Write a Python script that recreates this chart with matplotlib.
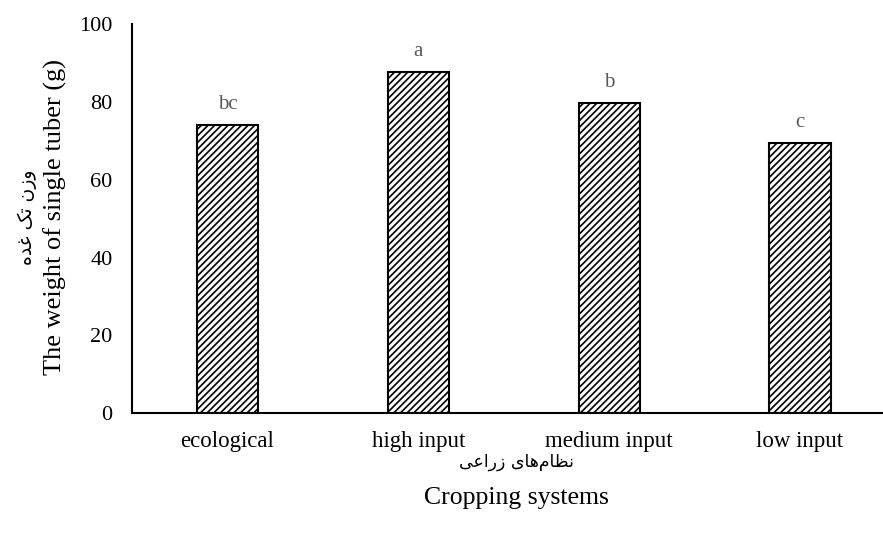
import matplotlib
matplotlib.use("Agg")
import matplotlib.pyplot as plt
import numpy as np

categories = ["ecological", "high input", "medium input", "low input"]
values = [74.0, 87.6, 79.6, 69.4]
letters = ["bc", "a", "b", "c"]
yticks = [0, 20, 40, 60, 80, 100]

# Persian labels, pre-shaped (presentation forms, visual order)
fa_ylabel = "\uFEE9\uFEAA\uFECF \uFB8F\uFE97 \uFEE5\uFEAF\uFEED"          # وزن تک غده
fa_xlabel = "\uFBFD\uFECB\uFE8D\uFEAD\uFEAF \uFBFC\uFE8E\uFEEB\uFEE1\uFE8E\uFEC8\uFEE7"  # نظام‌های زراعی

plt.rcParams["hatch.color"] = "#303030"
plt.rcParams["hatch.linewidth"] = 1.2
serif = ["Liberation Serif", "DejaVu Serif"]

fig = plt.figure(figsize=(8.83, 5.37), dpi=100)
ax = fig.add_axes([0.1495, 0.2303, 0.8505, 0.7250])

x = np.arange(len(categories))
ax.bar(x, values, width=0.32, color="white", edgecolor="black",
       linewidth=1.5, hatch="/////", zorder=2)

for xi, v, l in zip(x, values, letters):
    ax.annotate(l, (xi, v), xytext=(0, 8), textcoords="offset points",
                ha="center", va="bottom", fontsize=15, color="#595959",
                family=serif)

ax.set_xlim(-0.5, 3.435)
ax.set_ylim(0, 100)
ax.set_yticks(yticks)
ax.set_xticks(x)
ax.set_xticklabels(categories, family=serif, fontsize=16.5)
ax.set_yticklabels([str(t) for t in yticks], family=serif, fontsize=16)
ax.tick_params(axis="both", length=0)
ax.tick_params(axis="y", pad=14)
ax.tick_params(axis="x", pad=13)

for s in ["top", "right"]:
    ax.spines[s].set_visible(False)
for s in ["left", "bottom"]:
    ax.spines[s].set_linewidth(1.5)

# Axis titles
fig.text(0.0625, 0.595, "The weight of single tuber (g)", rotation=90,
         ha="center", va="center", fontsize=19, family=serif)
fig.text(0.031, 0.595, fa_ylabel, rotation=90, ha="center", va="center",
         fontsize=13.5, family=["DejaVu Sans"])
fig.text(0.585, 0.140, fa_xlabel, ha="center", va="center",
         fontsize=12.5, family=["DejaVu Sans"])
fig.text(0.585, 0.073, "Cropping systems", ha="center", va="center",
         fontsize=18.5, family=serif)

fig.savefig("out.png", dpi=100)
